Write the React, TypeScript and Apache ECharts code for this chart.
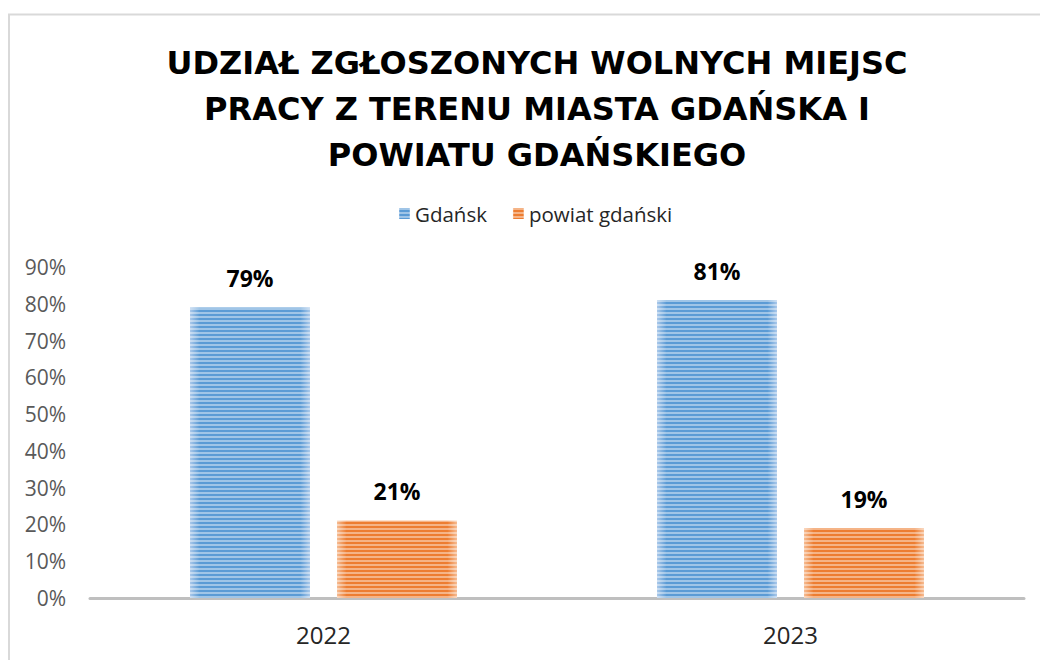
import React, { useEffect, useRef } from "react";
import * as echarts from "echarts";

const titleLines = [
  "UDZIAŁ ZGŁOSZONYCH WOLNYCH MIEJSC",
  "PRACY Z TERENU MIASTA GDAŃSKA I",
  "POWIATU GDAŃSKIEGO",
];
const categories = ["2022", "2023"];
const seriesNames = ["Gdańsk", "powiat gdański"];
const gdanskValues = [79, 81];
const powiatValues = [21, 19];
const yTicks = { min: 0, max: 90, interval: 10 };

const stripeDecal = {
  symbol: "rect",
  symbolSize: 1,
  dashArrayX: [1, 0],
  dashArrayY: [2, 2],
  rotation: 0,
  color: "rgba(255,255,255,0.42)",
};

function barFill(edge: string, main: string) {
  return new echarts.graphic.LinearGradient(0, 0, 1, 0, [
    { offset: 0, color: edge },
    { offset: 0.08, color: main },
    { offset: 0.92, color: main },
    { offset: 1, color: edge },
  ]);
}

export default function App() {
  const ref = useRef<HTMLDivElement>(null);
  useEffect(() => {
    if (!ref.current) return;
    document.body.style.margin = "0";
    document.body.style.overflow = "hidden";
    const chart = echarts.init(ref.current, null, { renderer: "svg" });
    const labelCfg = {
      show: true,
      position: "top",
      distance: 18,
      formatter: "{c}%",
      color: "#000000",
      fontFamily: "Open Sans",
      fontWeight: "bold",
      fontSize: 23,
    };
    chart.setOption({
      animation: false,
      backgroundColor: "#ffffff",
      title: {
        text: titleLines.join("\n"),
        left: 532,
        top: 35,
        textAlign: "center",
        textStyle: {
          fontFamily: "DejaVu Sans",
          fontWeight: "bold",
          fontSize: 32,
          lineHeight: 46,
          color: "#000000",
        },
      },
      legend: {
        left: 394,
        top: 198,
        itemWidth: 11,
        itemHeight: 11,
        itemGap: 26,
        icon: "rect",
        data: seriesNames,
        textStyle: {
          fontFamily: "Open Sans",
          fontSize: 20.5,
          color: "#262626",
          padding: [0, 0, 0, 0],
        },
      },
      graphic: [
        {
          type: "line",
          silent: true,
          shape: { x1: 8, y1: 14.5, x2: 1040, y2: 14.5 },
          style: { stroke: "#d9d9d9", lineWidth: 2 },
        },
        {
          type: "line",
          silent: true,
          shape: { x1: 9, y1: 14, x2: 9, y2: 660 },
          style: { stroke: "#d9d9d9", lineWidth: 2 },
        },
      ],
      grid: { left: 90, right: 16, top: 267, bottom: 62 },
      xAxis: {
        type: "category",
        data: categories,
        axisLine: { show: true, lineStyle: { color: "#bfbfbf", width: 3 } },
        axisTick: { show: false },
        axisLabel: {
          margin: 24,
          fontFamily: "Open Sans",
          fontSize: 24,
          color: "#262626",
        },
      },
      yAxis: {
        type: "value",
        min: yTicks.min,
        max: yTicks.max,
        interval: yTicks.interval,
        splitLine: { show: false },
        axisLine: { show: false },
        axisTick: { show: false },
        axisLabel: {
          formatter: "{value}%",
          margin: 24,
          fontFamily: "Open Sans",
          fontSize: 21,
          color: "#595959",
        },
      },
      series: [
        {
          name: seriesNames[0],
          type: "bar",
          data: gdanskValues,
          barWidth: 120,
          barGap: "22.5%",
          itemStyle: {
            color: barFill("#a9c8ea", "#5b9bd5"),
            decal: stripeDecal,
          },
          label: labelCfg,
        },
        {
          name: seriesNames[1],
          type: "bar",
          data: powiatValues,
          barWidth: 120,
          itemStyle: {
            color: barFill("#f6bb91", "#ed7d31"),
            decal: stripeDecal,
          },
          label: labelCfg,
        },
      ],
    });
    return () => chart.dispose();
  }, []);
  return <div ref={ref} style={{ width: 1040, height: 660 }} />;
}
